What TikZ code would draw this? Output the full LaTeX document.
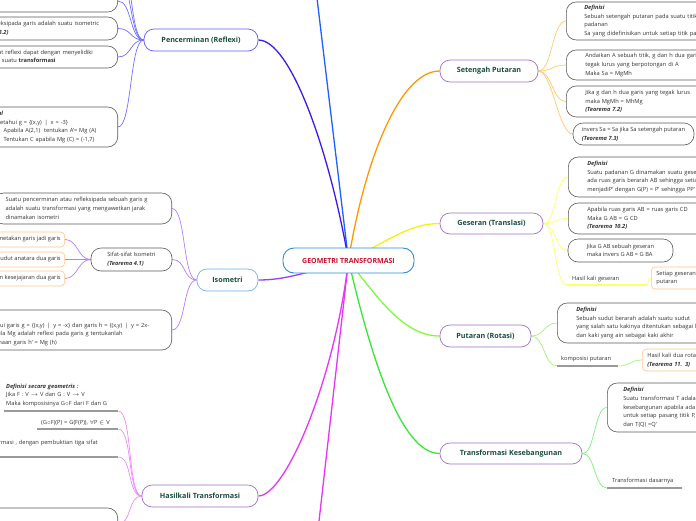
\documentclass[tikz,border=0pt]{standalone}
\usepackage{fontspec}
\setmainfont{Open Sans}
\pgfdeclarelayer{bg}
\pgfsetlayers{bg,main}
\definecolor{txt}{HTML}{333333}
\definecolor{bgray}{HTML}{5A5A5A}
\definecolor{oborder}{HTML}{FFC58A}
\definecolor{ugray}{HTML}{9A9A9A}
\definecolor{tborder}{HTML}{A070C8}
\definecolor{penb}{HTML}{5E5EF0}
\definecolor{isob}{HTML}{6EB6E6}
\definecolor{hubb}{HTML}{2E8BD6}
\definecolor{crim}{HTML}{C8102E}
\definecolor{tgreen}{HTML}{1B4D3E}
\definecolor{cblue}{HTML}{2060FF}
\definecolor{cind}{HTML}{3A1AF0}
\definecolor{cpenl}{HTML}{7070FF}
\definecolor{cora}{HTML}{FF9800}
\definecolor{coral}{HTML}{FFC966}
\definecolor{cyel}{HTML}{F2F20A}
\definecolor{cyell}{HTML}{FFFF66}
\definecolor{cpur}{HTML}{9B3DF5}
\definecolor{cpurl}{HTML}{B97BFF}
\definecolor{cmag}{HTML}{E535F5}
\definecolor{cmagl}{HTML}{EE88FF}
\definecolor{clime}{HTML}{7CFC3C}
\definecolor{climel}{HTML}{A6F07A}
\definecolor{cgrn}{HTML}{39E639}
\definecolor{cgrnl}{HTML}{7CF07C}
\begin{document}
\begin{tikzpicture}[x=1pt,y=-1pt,
  every node/.style={font=\fontsize{5.7}{8.7}\selectfont, text=txt},
  gbox/.style={draw=bgray, line width=0.6pt, rounded corners=10pt, fill=white, align=left, inner ysep=0pt},
  obox/.style={draw=oborder, line width=0.6pt, rounded corners=4pt, fill=white, inner ysep=0pt},
  leaf/.style={align=left, anchor=south west},
  topic/.style={draw=tborder, line width=0.7pt, rounded corners=10pt, fill=white, font=\fontsize{7.2}{9}\selectfont\bfseries, text=tgreen, inner sep=0pt, minimum height=22pt},
  hub/.style={draw=hubb, line width=0.9pt, rounded corners=11pt, fill=white, minimum width=131pt, minimum height=25pt, inner sep=0pt, font=\fontsize{7}{9}\selectfont\bfseries, text=crim},
  uline/.style={draw=ugray, line width=1.1pt},
  mainc/.style={line width=1.3pt},
  subc/.style={line width=0.7pt}]
\useasboundingbox (0,0) rectangle (696,520);
\clip (0,0) rectangle (696,520);

% hub and topics
\node[hub] (c) at (348.5,260.5) {GEOMETRI TRANSFORMASI};
\node[topic, draw=penb, minimum width=114pt] (pen) at (201,40) {Pencerminan (Reflexi)};
\node[topic, draw=isob, minimum width=61pt] (iso) at (227.5,280) {Isometri};
\node[topic, minimum width=116pt] (hk) at (200,496) {Hasilkali Transformasi};
\node[topic, minimum width=98pt] (sp) at (489,71) {Setengah Putaran};
\node[topic, minimum width=103pt, minimum height=21pt] (ges) at (491.5,223.5) {Geseran (Translasi)};
\node[topic, minimum width=91pt] (put) at (485.5,336) {Putaran (Rotasi)};
\node[topic, minimum width=142pt, minimum height=21pt] (kes) at (511,453.5) {Transformasi Kesebangunan};

\coordinate (topoff) at (316,-10);
\coordinate (botoff) at (318,530);
\coordinate (pu1) at (118,-22);
\coordinate (pu2) at (118,-45);

% Pencerminan children
\node[gbox, anchor=east, minimum width=158pt, minimum height=22pt, inner xsep=12pt, text width=134pt] (p1) at (118,1) {};
\node[gbox, anchor=east, minimum width=158pt, minimum height=23pt, inner xsep=12pt, text width=134pt] (p2) at (118,28.5)
  {Suatu refleksipada garis adalah suatu isometric\\\textbf{\textit{(Teorema 3.2)}}};
\node[gbox, anchor=east, minimum width=138pt, minimum height=22pt, inner xsep=12pt, text width=114pt] (p3) at (118,57)
  {Sifat reflexi dapat dengan menyelidiki\\Mg suatu \textbf{transformasi}};
\node[gbox, anchor=east, minimum width=138pt, minimum height=40pt, inner xsep=12pt, text width=114pt] (p4) at (118,127)
  {\textbf{\textit{Soal}}\\Diketahui g = \{(x,y) \,|\, x = -3\}\\\hspace*{12pt}Apabila A(2,1)\ \ tentukan A'= Mg (A)\\\hspace*{12pt}Tentukan C apabila Mg (C) = (-1,7)};

% Isometri children
\node[gbox, anchor=east, minimum width=178pt, minimum height=31pt, inner xsep=12pt, text width=154pt] (i1) at (172,208.5)
  {Suatu pencerminan atau refleksipada sebuah garis g\\adalah suatu transformasi yang mengawetkan jarak\\dinamakan isometri};
\node[gbox, minimum width=81pt, minimum height=23pt, inner xsep=4pt] (isifat) at (131.5,259.5)
  {Sifat-sifat Isometri\\\textbf{\textit{(Teorema 4.1)}}};
\node[obox, anchor=east, align=right, inner xsep=4pt, minimum height=15pt] (o1) at (65,239.5) {Memetakan garis jadi garis};
\node[obox, anchor=east, align=right, inner xsep=4pt, minimum height=15pt] (o2) at (65,259.5) {Mengawetkan besarnya sudut anatara dua garis};
\node[obox, anchor=east, align=right, inner xsep=4pt, minimum height=15pt] (o3) at (65,278.5) {Mengawetkan kesejajaran dua garis};
\node[gbox, anchor=east, minimum width=202pt, minimum height=40pt, inner xsep=10pt, text width=182pt] (i3) at (172,330)
  {\textbf{\textit{Soal}}\\Diketahui garis g = \{(x,y) \,|\, y = -x\} dan garis h = \{(x,y) \,|\, y = 2x-\\\hspace*{6pt}Apabila Mg adalah reflexi pada garis g tentukanlah\\\hspace*{2pt}persamaan garis h' = Mg (h)};

% Hasilkali children
\node[leaf, inner xsep=2pt, inner ysep=4pt, text width=110pt] (hdef) at (4,411)
  {\textbf{\textit{Definisi secara geometris :}}\\Jika F : V $\rightarrow$ V dan G : V $\rightarrow$ V\\\mbox{Maka komposisinya G$\circ$F dari F dan G}};
\node[leaf, inner xsep=4pt, inner ysep=3pt, text width=73pt] (hcomp) at (37,429)
  {\mbox{(G$\circ$F)(P) = G(F(P)), $\forall$P $\in$ V}};
\node[leaf, inner xsep=7pt, inner ysep=4pt, text width=164pt] (hthird) at (-60,457)
  {merupakan transformasi , dengan pembuktian tiga sifat\\\mbox{}};
\node[gbox, anchor=east, minimum width=178pt, minimum height=32pt, inner xsep=12pt, text width=154pt] (hbox) at (118,524) {};

% Setengah Putaran children
\node[gbox, anchor=west, minimum width=234pt, minimum height=38pt, inner xsep=18pt, text width=198pt] (s1) at (566,21)
  {\textbf{\textit{Definisi}}\\Sebuah setengah putaran pada suatu titik A adalah suatu\\padanan\\Sa yang didefinisikan untuk setiap titik pada bidang};
\node[gbox, anchor=west, minimum width=234pt, minimum height=30pt, inner xsep=19pt, text width=196pt] (s2) at (566,65)
  {Andaikan A sebuah titik, g dan h dua garis yang\\tegak lurus yang berpotongan di A\\Maka Sa = MgMh};
\node[gbox, anchor=west, minimum width=234pt, minimum height=31pt, inner xsep=19pt, text width=196pt] (s3) at (566,101.5)
  {Jika g dan h dua garis yang tegak lurus\\maka MgMh = MhMg\\\textbf{\textit{(Teorema 7.2)}}};
\node[gbox, minimum width=121pt, minimum height=22pt, inner xsep=4pt] (s4) at (633.5,134)
  {invers Sa = Sa jika Sa setengah putaran\\\textbf{\textit{(Teorema 7.3)}}};

% Geseran children
\node[gbox, anchor=west, minimum width=232pt, minimum height=40pt, inner xsep=19pt, text width=194pt] (g1) at (568,177)
  {\textbf{\textit{Definisi}}\\Suatu padanan G dinamakan suatu geseran apabila\\ada ruas garis berarah AB sehingga setiap titik P\\menjadiP' dengan G(P) = P' sehingga PP' = AB};
\node[gbox, anchor=west, minimum width=232pt, minimum height=31pt, inner xsep=19pt, text width=194pt] (g2) at (568,218.5)
  {Apabila ruas garis AB = ruas garis CD\\Maka G AB = G CD\\\textbf{\textit{(Teorema 10.2)}}};
\node[gbox, minimum width=105pt, minimum height=23pt, inner xsep=4pt] (g3) at (620.5,250.5)
  {Jika G AB sebuah geseran\\maka invers G AB = G BA};
\node[leaf, inner xsep=5pt, inner ysep=3pt, text width=68pt] (ghk) at (567,285) {Hasil kali geseran};
\node[obox, anchor=west, align=left, minimum width=150pt, minimum height=22pt, inner xsep=5pt, text width=140pt] (go) at (651,278)
  {Setiap geseran adalah hasil kali dua setengah\\putaran};

% Putaran children
\node[gbox, anchor=west, minimum width=234pt, minimum height=40pt, inner xsep=19pt, text width=196pt] (r1) at (557,323)
  {\textbf{\textit{Definisi}}\\Sebuah sudut berarah adalah suatu sudut\\yang salah satu kakinya ditentukan sebagai kaki awal\\dan kaki yang ain sebagai kaki akhir};
\node[leaf, inner xsep=4pt, inner ysep=3.5pt, text width=53pt] (rk) at (557,366) {komposisi putaran};
\node[obox, anchor=west, align=left, minimum width=150pt, minimum height=22pt, inner xsep=5pt, text width=140pt] (ro) at (642,360)
  {Hasil kali dua rotasi adalah rotasi\\\textbf{\textit{(Teorema 11. 3)}}};

% Kesebangunan children
\node[gbox, anchor=west, minimum width=200pt, minimum height=49pt, inner xsep=16pt, text width=168pt] (k1) at (607,407.5)
  {\textbf{\textit{Definisi}}\\Suatu transformasi T adalah suatu\\kesebangunan apabila ada k $>$ 0\\untuk setiap pasang titik P, Q berlaku\\dan T(Q) =Q'};
\node[leaf, inner xsep=5pt, inner ysep=3.5pt, text width=65pt] (kd) at (607,488) {Transformasi dasarnya};

% underlines
\draw[uline] (hdef.south west) -- (hdef.south east);
\draw[uline] (hcomp.south west) -- (hcomp.south east);
\draw[uline] (hthird.south west) -- (hthird.south east);
\draw[uline, draw=cyell] (ghk.south west) -- (ghk.south east);
\draw[uline] (rk.south west) -- (rk.south east);
\draw[uline] (kd.south west) -- (kd.south east);

\begin{pgfonlayer}{bg}
\clip (0,0) rectangle (696,520);
% main branches
\draw[mainc, draw=cblue] (c.center) -- (topoff);
\draw[mainc, draw=cind] (c.center) .. controls +(-19,-110) and +(32,0) .. (pen.east);
\draw[mainc, draw=cora] (c.center) .. controls +(16,-100) and +(-40,0) .. (sp.west);
\draw[mainc, draw=cyel] (c.center) .. controls +(40,-20) and +(-30,0) .. (ges.west);
\draw[mainc, draw=cpur] (c.center) .. controls +(-50,15) and +(22,0) .. (iso.east);
\draw[mainc, draw=cmag] (c.center) .. controls +(-14,120) and +(27,0) .. (hk.east);
\draw[mainc, draw=cmag] (c.center) -- (botoff);
\draw[mainc, draw=clime] (c.center) .. controls +(31,40) and +(-35,0) .. (put.west);
\draw[mainc, draw=cgrn] (c.center) .. controls +(21,90) and +(-40,0) .. (kes.west);
% Pencerminan
\foreach \t in {p1,p2,p3,p4}
  \draw[subc, draw=cpenl] (pen.west) .. controls +(-14,0) and +(14,0) .. (\t.east);
\draw[subc, draw=cpenl] (pen.west) .. controls +(-14,0) and +(14,0) .. (pu1);
\draw[subc, draw=cpenl] (pen.west) .. controls +(-14,0) and +(14,0) .. (pu2);
% Isometri
\foreach \t in {i1,isifat,i3}
  \draw[subc, draw=cpurl] (iso.west) .. controls +(-14,0) and +(14,0) .. (\t.east);
\foreach \t in {o1,o2,o3}
  \draw[subc, draw=cpurl] (isifat.west) .. controls +(-13,0) and +(13,0) .. (\t.east);
% Hasilkali
\foreach \t in {hdef,hcomp,hthird}
  \draw[subc, draw=cmagl] (hk.west) .. controls +(-14,0) and +(14,0) .. (\t.south east);
\draw[subc, draw=cmagl] (hk.west) .. controls +(-14,0) and +(14,0) .. (hbox.east);
% Setengah Putaran
\foreach \t in {s1,s2,s3,s4}
  \draw[subc, draw=coral] (sp.east) .. controls +(14,0) and +(-14,0) .. (\t.west);
% Geseran
\foreach \t in {g1,g2,g3}
  \draw[subc, draw=cyell] (ges.east) .. controls +(13,0) and +(-13,0) .. (\t.west);
\draw[subc, draw=cyell] (ges.east) .. controls +(13,0) and +(-13,0) .. (ghk.south west);
\draw[subc, draw=cyell] (ghk.south east) .. controls +(4,0) and +(-4,0) .. (go.west);
% Putaran
\draw[subc, draw=climel] (put.east) .. controls +(13,0) and +(-13,0) .. (r1.west);
\draw[subc, draw=climel] (put.east) .. controls +(13,0) and +(-13,0) .. (rk.south west);
\draw[subc, draw=climel] (rk.south east) .. controls +(12,0) and +(-12,0) .. (ro.west);
% Kesebangunan
\draw[subc, draw=cgrnl] (kes.east) .. controls +(13,0) and +(-13,0) .. (k1.west);
\draw[subc, draw=cgrnl] (kes.east) .. controls +(13,0) and +(-13,0) .. (kd.south west);
\end{pgfonlayer}
\end{tikzpicture}
\end{document}
